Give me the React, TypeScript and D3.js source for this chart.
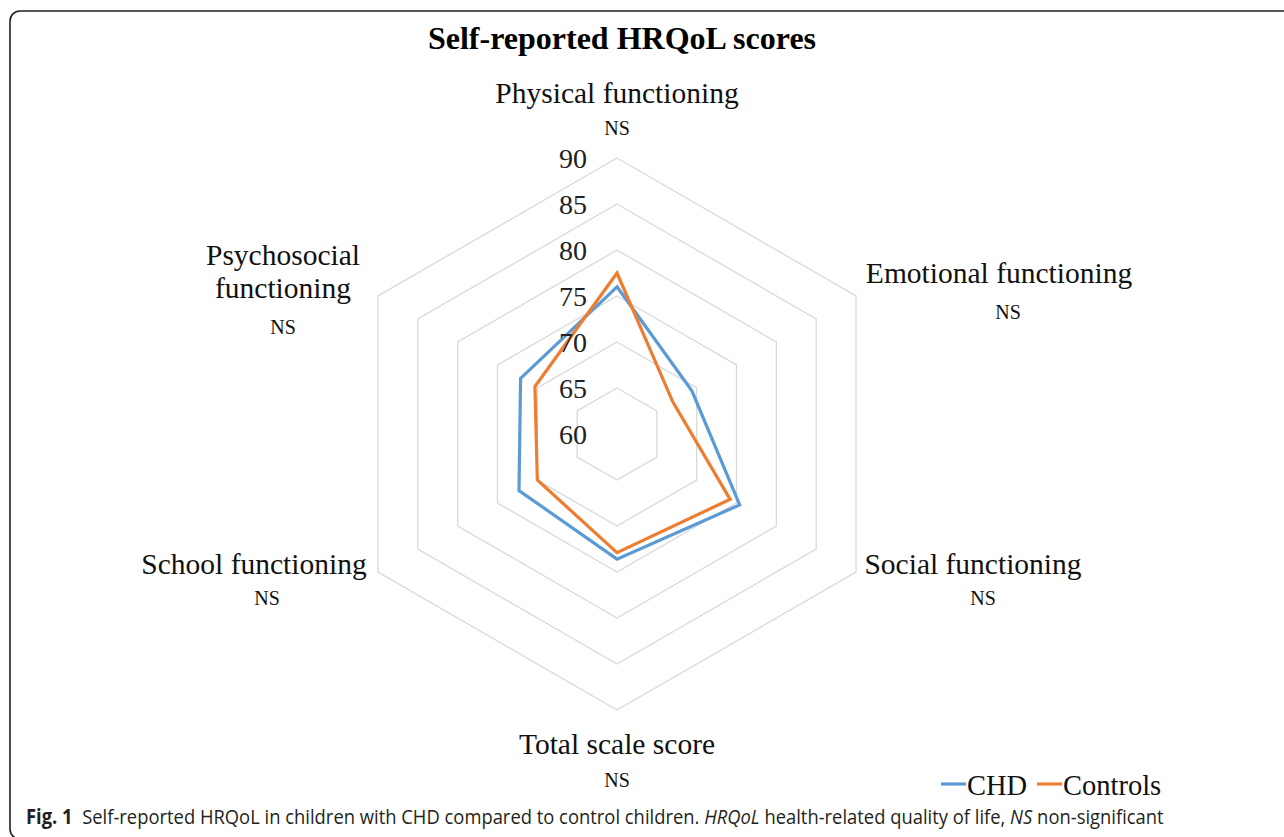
import React, { useEffect, useRef, useState } from "react";
import * as d3 from "d3";

const categories = [
  "Physical functioning",
  "Emotional functioning",
  "Social functioning",
  "Total scale score",
  "School functioning",
  "Psychosocial functioning",
];
const chdValues = [76.0, 69.4, 75.4, 73.6, 72.3, 72.1];
const controlValues = [77.5, 67.0, 74.2, 72.9, 70.0, 70.3];
const tickValues = [60, 65, 70, 75, 80, 85, 90];
const seriesNames = ["CHD", "Controls"];
const significance = ["NS", "NS", "NS", "NS", "NS", "NS"];

const W = 1284;
const H = 837;
const CX = 617;
const CY = 434;
const R = 276;
const BLUE = "#5B9BD5";
const ORANGE = "#ED7D31";
const SERIF = "'Liberation Serif', 'Times New Roman', serif";

// label layout (x center, baseline of name lines, baseline of NS)
const labelLayout = [
  { x: 617, lines: [103], ns: [617, 135] },
  { x: 999, lines: [283], ns: [1008, 319] },
  { x: 973, lines: [574], ns: [983, 605] },
  { x: 617, lines: [754], ns: [617, 787] },
  { x: 254, lines: [574], ns: [267, 605] },
  { x: 283, lines: [265, 298], ns: [283, 334] },
];
const labelSplit = (name: string, i: number) =>
  i === 5 ? ["Psychosocial", "functioning"] : [name];

const CAPTION_X = 26;
const CAPTION_W = 1138;

export default function App() {
  const capRef = useRef<SVGTextElement>(null);
  const [capScale, setCapScale] = useState(1);

  useEffect(() => {
    if (capRef.current) {
      const w = capRef.current.getBBox().width;
      if (w > 0) setCapScale(CAPTION_W / w);
    }
  }, []);

  const r = d3.scaleLinear().domain([60, 90]).range([0, R]);
  const angle = d3
    .scalePoint<number>()
    .domain(d3.range(categories.length + 1))
    .range([0, 2 * Math.PI]);

  const radial = d3
    .lineRadial<number>()
    .angle((_, i) => angle(i) as number)
    .radius((v) => r(v))
    .curve(d3.curveLinearClosed);

  const series = [
    { name: seriesNames[0], values: chdValues, color: BLUE },
    { name: seriesNames[1], values: controlValues, color: ORANGE },
  ];

  return (
    <svg
      width={W}
      height={H}
      style={{ position: "absolute", left: 0, top: 0, background: "#fff" }}
    >
      <rect x={0} y={0} width={W} height={H} fill="#fff" />
      <rect
        x={10}
        y={11}
        width={1300}
        height={828}
        rx={10}
        fill="none"
        stroke="#231f20"
        strokeWidth={1.6}
      />
      <text
        x={622}
        y={49}
        textAnchor="middle"
        fontFamily={SERIF}
        fontWeight="bold"
        fontSize={32}
        fill="#000"
      >
        Self-reported HRQoL scores
      </text>

      <g transform={`translate(${CX},${CY})`}>
        {tickValues
          .filter((t) => t > 60)
          .map((t) => (
            <path
              key={t}
              d={radial(categories.map(() => t)) || ""}
              fill="none"
              stroke="#d9d9d9"
              strokeWidth={1.3}
            />
          ))}
        {series.map((s) => (
          <path
            key={s.name}
            d={radial(s.values) || ""}
            fill="none"
            stroke={s.color}
            strokeWidth={3.2}
            strokeLinejoin="miter"
          />
        ))}
        {tickValues.map((t) => (
          <text
            key={t}
            x={-30}
            y={-r(t)}
            dy="0.35em"
            textAnchor="end"
            fontFamily={SERIF}
            fontSize={28}
            fill="#222"
          >
            {t}
          </text>
        ))}
      </g>

      {categories.map((c, i) => {
        const L = labelLayout[i];
        const lines = labelSplit(c, i);
        return (
          <g key={c}>
            {lines.map((ln, j) => (
              <text
                key={j}
                x={L.x}
                y={L.lines[j]}
                textAnchor="middle"
                fontFamily={SERIF}
                fontSize={29.5}
                fill="#111"
              >
                {ln}
              </text>
            ))}
            <text
              x={L.ns[0]}
              y={L.ns[1]}
              textAnchor="middle"
              fontFamily={SERIF}
              fontSize={20}
              fill="#111"
            >
              {significance[i]}
            </text>
          </g>
        );
      })}

      {/* legend */}
      <g>
        <line x1={941} x2={966} y1={784} y2={784} stroke={BLUE} strokeWidth={3.2} />
        <text x={967} y={795} fontFamily={SERIF} fontSize={28.5} fill="#111">
          {seriesNames[0]}
        </text>
        <line x1={1037} x2={1062} y1={784} y2={784} stroke={ORANGE} strokeWidth={3.2} />
        <text x={1063} y={795} fontFamily={SERIF} fontSize={28.5} fill="#111">
          {seriesNames[1]}
        </text>
      </g>

      <g
        transform={`translate(${CAPTION_X},824) scale(${capScale},1)`}
      >
        <text
          ref={capRef}
          x={0}
          y={0}
          fontFamily="'Open Sans', 'Noto Sans', sans-serif"
          fontSize={20.5}
          fill="#231f20"
        >
          <tspan fontWeight="bold">Fig. 1</tspan>
          <tspan>{"\u00a0\u00a0Self-reported HRQoL in children with CHD compared to control children. "}</tspan>
          <tspan fontStyle="italic">HRQoL</tspan>
          <tspan>{" health-related quality of life, "}</tspan>
          <tspan fontStyle="italic">NS</tspan>
          <tspan>{" non-significant"}</tspan>
        </text>
      </g>
    </svg>
  );
}
